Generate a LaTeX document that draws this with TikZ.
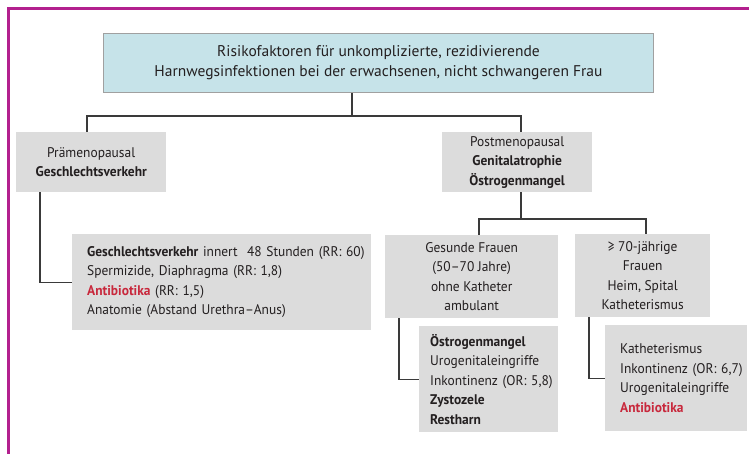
\documentclass[tikz,border=0pt]{standalone}
\usepackage{fontspec}
\setmainfont[FakeStretch=0.96]{PT Sans}
\newfontfamily\titlefont{PT Sans}
\definecolor{frame}{HTML}{B3208E}
\definecolor{titlefill}{HTML}{C6E3E9}
\definecolor{titleborder}{HTML}{A0A0A0}
\definecolor{boxfill}{HTML}{DCDCDC}
\definecolor{linecol}{HTML}{3A3A3A}
\definecolor{redtext}{HTML}{C8283C}
\definecolor{ink}{HTML}{231F20}
\tikzset{
  txt/.style={font=\fontsize{14}{19.5}\selectfont, text=ink},
  titlebox/.style={font=\titlefont\fontsize{15.5}{20}\selectfont, text=ink, fill=titlefill, draw=titleborder, line width=1pt, align=center, inner sep=0pt,
     minimum width=550, minimum height=59, anchor=north west},
  cbox/.style={txt, fill=boxfill, align=center, inner sep=0pt, anchor=north west},
  lbox/.style={txt, fill=boxfill, align=left, inner ysep=0pt, anchor=north west},
  conn/.style={draw=linecol, line width=1.2pt},
  framebar/.style={draw=frame, line width=3pt}
}
\newcommand{\rt}[1]{\textcolor{redtext}{\textbf{#1}}}
\begin{document}
\begin{tikzpicture}[x=1pt,y=-1pt]
\useasboundingbox (0,0) rectangle (749,454);
% frame
\draw[framebar] (749,8.5) -- (8.5,8.5) -- (8.5,454);
% title
\node[titlebox] (title) at (103,33) {Risikofaktoren für unkomplizierte, rezidivierende\\Harnwegsinfektionen bei der erwachsenen, nicht schwangeren Frau};
% level 1
\node[cbox, minimum width=150, minimum height=60] (pre) at (16,132) {Prämenopausal\\\textbf{Geschlechtsverkehr}};
\node[cbox, minimum width=150, minimum height=60] (post) at (442,132) {Postmenopausal\\\textbf{Genitalatrophie}\\\textbf{Östrogenmangel}};
% level 2 left
\node[lbox, minimum width=299, minimum height=96, inner xsep=15, text width=269] (presub) at (72,234)
 {\mbox{\textbf{Geschlechtsverkehr} innert~ 48 Stunden (RR: 60)}\\Spermizide, Diaphragma (RR: 1,8)\\\rt{Antibiotika} (RR: 1,5)\\Anatomie (Abstand Urethra–Anus)};
% level 2 right
\node[cbox, minimum width=173, minimum height=83] (ges) at (385,235) {Gesunde Frauen\\(50–70 Jahre)\\ohne Katheter\\ambulant};
\node[cbox, minimum width=135, minimum height=83] (old) at (575,234) {≥ 70-jährige\\Frauen\\Heim, Spital\\Katheterismus};
% level 3
\node[lbox, minimum width=139, minimum height=106, inner xsep=11, text width=117] (gessub) at (419,326)
 {\textbf{Östrogenmangel}\\Urogenitaleingriffe\\\mbox{Inkontinenz (OR: 5,8)}\\\textbf{Zystozele}\\\textbf{Restharn}};
\node[lbox, minimum width=142, minimum height=106, inner xsep=15, text width=112] (oldsub) at (605,325)
 {Katheterismus\\\mbox{Inkontinenz (OR: 6,7)}\\Urogenitaleingriffe\\\rt{Antibiotika}};
% connector helper coordinates
\coordinate (j0) at (352,116);
\coordinate (jl) at (87,116);
\coordinate (jr) at (521,116);
\coordinate (k0) at (521,219);
\coordinate (kl) at (479,219);
\coordinate (kr) at (646,219);
\coordinate (xa) at (40,0);
\coordinate (xb) at (399,0);
\coordinate (xc) at (589,0);
% connectors
\draw[conn] (title.south -| j0) -- (j0);
\draw[conn] (pre.north -| jl) -- (jl) -- (jr) -- (post.north -| jr);
\draw[conn] (post.south -| k0) -- (k0);
\draw[conn] (ges.north -| kl) -- (kl) -- (kr) -- (old.north -| kr);
\draw[conn] (pre.south -| xa) |- (presub.west);
\draw[conn] (ges.south -| xb) |- (gessub.west);
\draw[conn] (old.south -| xc) |- (oldsub.west);
\end{tikzpicture}
\end{document}
